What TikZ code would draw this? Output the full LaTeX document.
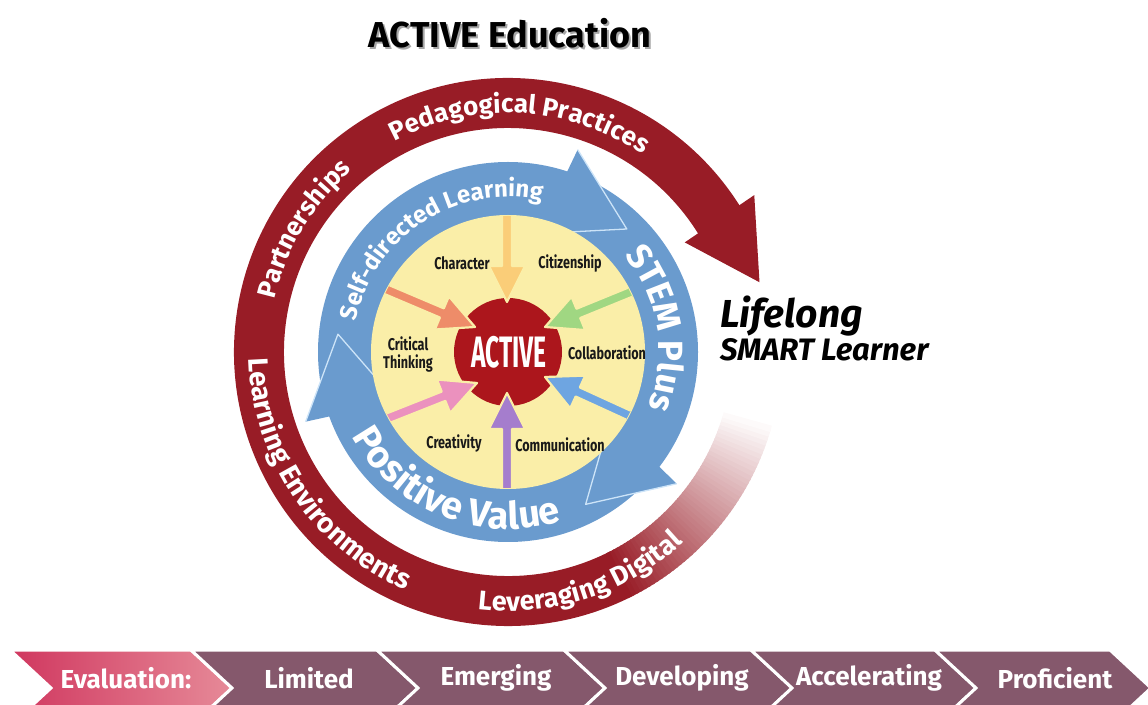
\documentclass[tikz,border=0pt]{standalone}
\usepackage{fontspec}
\setmainfont{Fira Sans}
\newfontfamily\fira{Fira Sans}
\newfontfamily\firaN{Fira Sans}[FakeStretch=0.74]
\newfontfamily\firaA{Fira Sans}[FakeStretch=0.56]
\usetikzlibrary{calc,decorations.text}
\definecolor{redring}{RGB}{152,28,38}
\definecolor{blobred}{RGB}{172,22,28}
\definecolor{bluering}{RGB}{106,155,206}
\definecolor{blueedge}{RGB}{205,228,248}
\definecolor{yel}{RGB}{250,238,168}
\definecolor{mauve}{RGB}{133,88,108}
\definecolor{evalL}{RGB}{208,55,95}
\definecolor{evalR}{RGB}{230,138,152}
\definecolor{arTop}{RGB}{250,205,120}
\definecolor{arOrange}{RGB}{238,140,105}
\definecolor{arGreen}{RGB}{160,215,130}
\definecolor{arPink}{RGB}{235,145,190}
\definecolor{arBlue}{RGB}{110,165,225}
\definecolor{arPurple}{RGB}{165,125,205}
\newcommand{\curvetext}[5]{%
  \path[decorate,decoration={text along path,text align=center,text color=white,
    text={|\fira\bfseries\fontsize{#2}{#2}\selectfont|#1}}]
    ($(C)+(#3:#5pt)$) arc[start angle=#3,end angle=#4,radius=#5pt];
}
\newcommand{\inarrow}[3]{%
  \coordinate (hb) at ($(#2)!36pt!(#1)$);
  \filldraw[fill=#3,draw=yel,line width=2.2pt,line join=round]
    ($(#1)!5pt!90:(#2)$) -- ($(hb)!5pt!90:(#2)$) -- ($(hb)!18pt!90:(#2)$) -- (#2)
    -- ($(hb)!18pt!-90:(#2)$) -- ($(hb)!5pt!-90:(#2)$) -- ($(#1)!5pt!-90:(#2)$) -- cycle;
}
\tikzset{
  inlabel/.style={font=\firaN\bfseries\fontsize{17}{18}\selectfont,text=black!90,align=center,inner sep=0pt},
  barlabel/.style={font=\fira\bfseries\fontsize{26}{26}\selectfont,text=white,inner sep=0pt},
  chev/.style={draw=white,line width=3pt,line join=miter}
}
\begin{document}
\begin{tikzpicture}[x=1pt,y=1pt]
\useasboundingbox (0,0) rectangle (1148,704);
\coordinate (C) at (508,352);

% ---------- red outer ring ----------
\fill[redring] ($(C)+(31:274pt)$) arc[start angle=31,end angle=297,radius=274pt]
  -- ($(C)+(297:224pt)$) arc[start angle=297,end angle=31,radius=224pt] -- cycle;
\foreach \i in {0,...,47}{
  \pgfmathsetmacro\pc{100-\i*100/48}
  \pgfmathsetmacro\sa{296+\i}
  \pgfmathsetmacro\ea{297.4+\i}
  \fill[redring!\pc!white] ($(C)+(\sa:274pt)$) arc[start angle=\sa,end angle=\ea,radius=274pt]
    -- ($(C)+(\ea:224pt)$) arc[start angle=\ea,end angle=\sa,radius=224pt] -- cycle;
}
\fill[redring] ($(C)+(32.5:292pt)$) -- ($(C)+(15.5:261pt)$) -- ($(C)+(31.8:208pt)$) -- cycle;

% ---------- blue ring ----------
\fill[bluering] (C) circle[radius=190pt];
\foreach \b in {71,-38,199}{
  \filldraw[fill=bluering,draw=blueedge,line width=1.3pt,line join=round]
    ($(C)+(\b:214pt)$) -- ($(C)+(\b-25:171pt)$) -- ($(C)+(\b+5:122pt)$);
}

% ---------- yellow disc ----------
\fill[yel] (C) circle[radius=137pt];

% ---------- centre ----------
\fill[blobred] (C) circle[radius=54pt];
\begin{scope}
\clip (C) circle[radius=136pt];
\coordinate (sTop) at (507,495);  \coordinate (tTop) at (507,402);
\coordinate (sOr) at (376,419);   \coordinate (tOr) at (475,377);
\coordinate (sGr) at (643,417);   \coordinate (tGr) at (545,377);
\coordinate (sPk) at (381,283);   \coordinate (tPk) at (477,321);
\coordinate (sBl) at (639,284);   \coordinate (tBl) at (545,327);
\coordinate (sPu) at (507,209);   \coordinate (tPu) at (507,311);
\inarrow{sTop}{tTop}{arTop}
\inarrow{sOr}{tOr}{arOrange}
\inarrow{sGr}{tGr}{arGreen}
\inarrow{sPk}{tPk}{arPink}
\inarrow{sBl}{tBl}{arBlue}
\inarrow{sPu}{tPu}{arPurple}
\end{scope}
\node[font=\firaA\bfseries\fontsize{44}{44}\selectfont,text=white,inner sep=0pt] (active) at (509,352) {ACTIVE};

\node[inlabel] (character) at (462,441) {Character};
\node[inlabel] (citizenship) at (570,441) {Citizenship};
\node[inlabel] (critical) at (408,350) {Critical\\Thinking};
\node[inlabel] (collab) at (607,351) {Collaboration};
\node[inlabel] (creativity) at (454,261) {Creativity};
\node[inlabel] (communication) at (560,259) {Communication};

% ---------- curved texts ----------
\curvetext{Pedagogical Practices}{26}{147}{27}{239}
\curvetext{Partnerships}{26}{209}{89}{239}
\curvetext{Learning Environments}{28}{154}{274}{259}
\curvetext{Leveraging Digital}{27}{228}{348}{259}
\curvetext{Self-directed Learning}{24}{183}{63}{155}
\curvetext{STEM Plus}{35}{69}{-51}{151}
\curvetext{Positive Value}{38}{188}{308}{177}

% ---------- outside texts ----------
\node[font=\fira\bfseries\fontsize{36}{36}\selectfont,text=black!35,anchor=base,inner sep=0pt] (titleS) at (512,654) {ACTIVE Education};
\node[font=\fira\bfseries\fontsize{36}{36}\selectfont,text=black,anchor=base,inner sep=0pt] (title) at (510,656) {ACTIVE Education};
\node[font=\fira\bfseries\itshape\fontsize{39}{39}\selectfont,anchor=base west,inner sep=0pt] (lifelong) at (720,376) {Lifelong};
\node[font=\fira\bfseries\itshape\fontsize{31}{31}\selectfont,anchor=base west,inner sep=0pt] (smart) at (720,343) {SMART Learner};

% ---------- bottom bar ----------
\begin{scope}
\clip (0,0) rectangle (1148,704);
\def\d{41}
\shade[left color=evalL,right color=evalR] (10,54) -- (191,54) -- (232,16) -- (191,-22) -- (10,-22) -- (51,16) -- cycle;
\draw[chev] (10,54) -- (191,54) -- (232,16) -- (191,-22) -- (10,-22) -- (51,16) -- cycle;
\foreach \a/\b in {191/377,377/564,564/751,751/935,935/1110}{
  \filldraw[chev,fill=mauve] (\a,54) -- (\b,54) -- (\b+\d,16) -- (\b,-22) -- (\a,-22) -- (\a+\d,16) -- cycle;
}
\end{scope}
\foreach \n/\x/\t in {eval/126/Evaluation:,lim/309/Limited,eme/496/Emerging,dev/682/Developing,acc/869/Accelerating,pro/1055/Proficient}{
  \node[barlabel] (\n) at (\x,26) {\t};
}
\end{tikzpicture}
\end{document}
